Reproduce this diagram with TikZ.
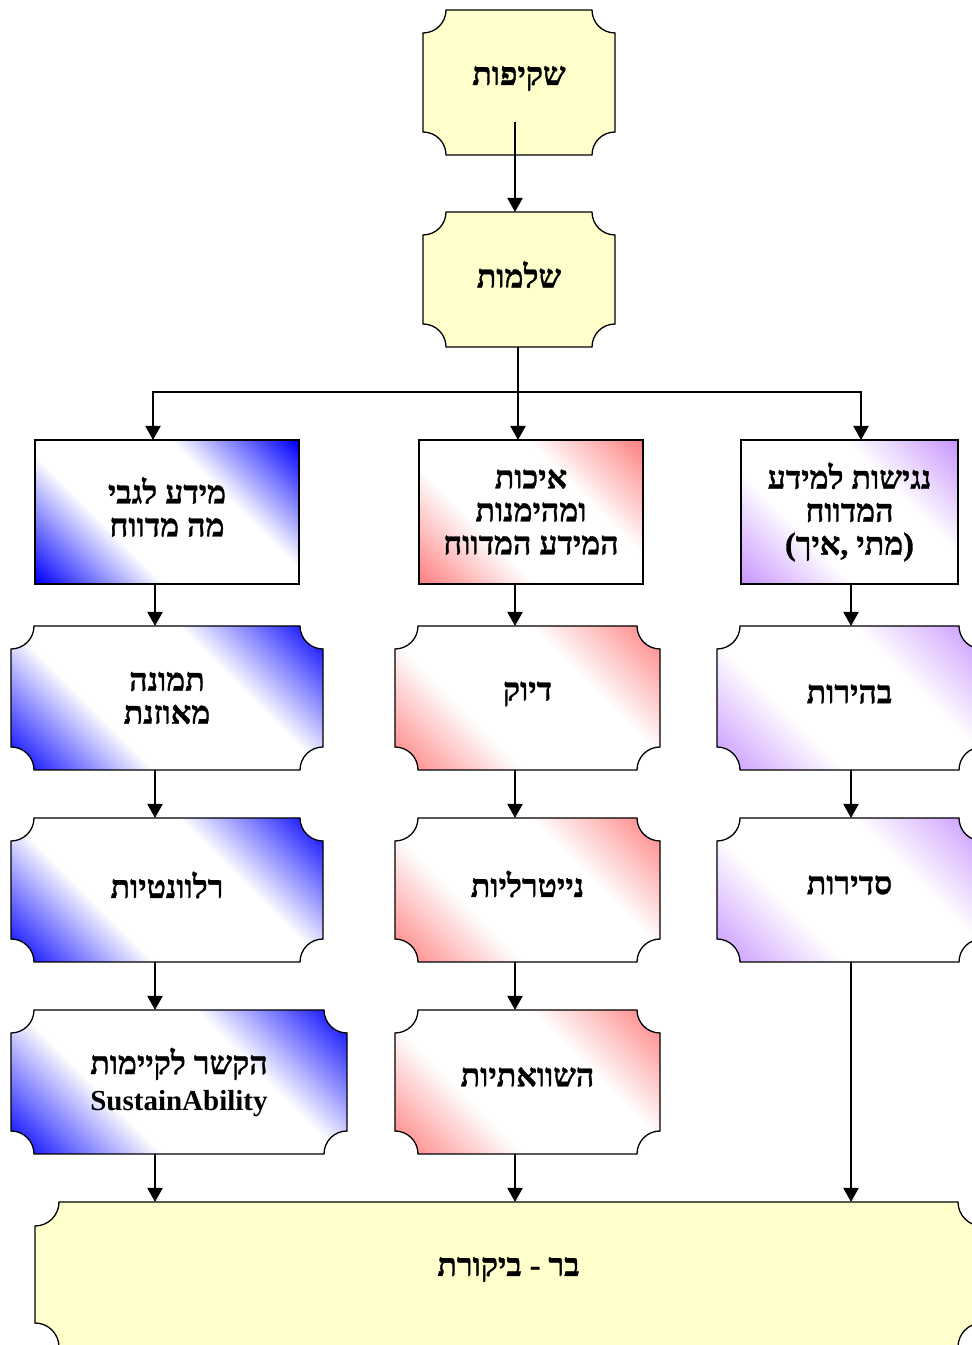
\documentclass[tikz,border=0pt]{standalone}
\usepackage{fontspec}
\newfontfamily\hebfont[Script=Hebrew,BoldFeatures={FakeBold=1}]{Liberation Serif}
\newfontfamily\latfont{Liberation Serif}
\TeXXeTstate=1
\usetikzlibrary{arrows.meta}

\definecolor{paleyellow}{RGB}{255,255,204}
\definecolor{shblue}{RGB}{0,0,255}
\definecolor{shred}{RGB}{255,128,128}
\definecolor{shviolet}{RGB}{200,150,255}

% diagonal shadings: coloured corners, white band along the diagonal
\pgfdeclarehorizontalshading{diagblue}{100bp}{color(0bp)=(shblue); color(15bp)=(shblue); color(37bp)=(white); color(63bp)=(white); color(85bp)=(shblue); color(100bp)=(shblue)}
\pgfdeclarehorizontalshading{diagred}{100bp}{color(0bp)=(shred); color(15bp)=(shred); color(37bp)=(white); color(63bp)=(white); color(85bp)=(shred); color(100bp)=(shred)}
\pgfdeclarehorizontalshading{diagviolet}{100bp}{color(0bp)=(shviolet); color(15bp)=(shviolet); color(37bp)=(white); color(63bp)=(white); color(85bp)=(shviolet); color(100bp)=(shviolet)}

% one right-to-left line
\newcommand{\rl}[1]{\beginR #1\endR}

% plaque (rectangle with concave corners):
% name, style, left, bottom, right, top, text, vertical text offset
\newcommand{\plqr}{23}
\newcommand{\plaque}[8]{%
  \path[boxframe,#2] (#3+\plqr,#6) -- (#5-\plqr,#6)
     arc[start angle=180,end angle=270,radius=\plqr] -- (#5,#4+\plqr)
     arc[start angle=90,end angle=180,radius=\plqr] -- (#3+\plqr,#4)
     arc[start angle=0,end angle=90,radius=\plqr] -- (#3,#6-\plqr)
     arc[start angle=270,end angle=360,radius=\plqr] -- cycle;
  \node[boxslot,minimum width={#5-#3},minimum height={#6-#4}] (#1)
     at ({(#3+#5)/2},{(#4+#6)/2}) {};
  \node[boxtext] (#1-text) at ([yshift=#8pt]#1.center) {#7};}
% plain rectangle: same arguments
\newcommand{\rectbox}[8]{%
  \path[boxframe,#2] (#3,#4) rectangle (#5,#6);
  \node[boxslot,minimum width={#5-#3},minimum height={#6-#4}] (#1)
     at ({(#3+#5)/2},{(#4+#6)/2}) {};
  \node[boxtext] (#1-text) at ([yshift=#8pt]#1.center) {#7};}

\begin{document}
\begin{tikzpicture}[x=1pt,y=1pt,
  boxframe/.style={draw=black,line width=1.3pt},
  yellowbox/.style={fill=paleyellow},
  bluebox/.style={shading=diagblue,shading angle=45},
  redbox/.style={shading=diagred,shading angle=45},
  violetbox/.style={shading=diagviolet,shading angle=45},
  boxslot/.style={inner sep=0pt,outer sep=0pt},
  boxtext/.style={align=center,inner sep=0pt,
    font=\hebfont\bfseries\fontsize{32}{33}\selectfont},
  wire/.style={line width=2pt,draw=black},
  conn/.style={wire,-{Triangle[width=15pt,length=14pt]}}]
\useasboundingbox (0,0) rectangle (972,1345);
\clip (0,0) rectangle (972,1345);

% column guides for the vertical connectors
\coordinate (colL) at (155,0);
\coordinate (colM) at (515,0);
\coordinate (colR) at (851,0);
\coordinate (dropL) at (153,0);
\coordinate (dropR) at (861,0);

% top chain
\plaque{top}{yellowbox}{423}{1190}{615}{1335}{\rl{שקיפות}}{4}
\plaque{mid}{yellowbox}{423}{998}{615}{1133}{\rl{שלמות}}{5}

% three main branches
\rectbox{iL}{bluebox}{35}{761}{299}{905}{\rl{מידע לגבי}\\\rl{מה מדווח}}{5}
\rectbox{iM}{redbox}{419}{761}{643}{905}{\rl{איכות}\\\rl{ומהימנות}\\\rl{המידע המדווח}}{0}
\rectbox{iR}{violetbox}{741}{761}{958}{905}{\rl{נגישות למידע}\\\rl{המדווח}\\\rl{(מתי ,איך)}}{0}

% second row
\plaque{L2}{bluebox}{11}{575}{323}{719}{\rl{תמונה}\\\rl{מאוזנת}}{0}
\plaque{M2}{redbox}{395}{575}{660}{719}{\rl{דיוק}}{4}
\plaque{R2}{violetbox}{717}{575}{982}{719}{\rl{בהירות}}{4}

% third row
\plaque{L3}{bluebox}{11}{383}{323}{527}{\rl{רלוונטיות}}{5}
\plaque{M3}{redbox}{395}{383}{660}{527}{\rl{נייטרליות}}{6}
\plaque{R3}{violetbox}{717}{383}{982}{527}{\rl{סדירות}}{5}

% fourth row
\plaque{L4}{bluebox}{11}{191}{347}{335}{\rl{הקשר לקיימות}\\[3pt]{\latfont\fontsize{29}{33}\selectfont SustainAbility}}{0}
\plaque{M4}{redbox}{395}{191}{660}{335}{\rl{השוואתיות}}{5}

% common sink
\renewcommand{\plqr}{24}
\plaque{bar}{yellowbox}{35}{-2}{982}{143}{\rl{בר - ביקורת}}{5}

% connectors
\draw[conn] ([shift={(-4,33)}]top.south) -- ([xshift=-4pt]mid.north);
\coordinate (bus) at (518,953);
\draw[wire] ([xshift=-1pt]mid.south) -- (bus);
\draw[conn] (bus) -| (iL.north -| dropL);
\draw[conn] (bus) -- (iM.north -| bus);
\draw[conn] (bus) -| (iR.north -| dropR);

\draw[conn] (iL.south -| colL) -- (L2.north -| colL);
\draw[conn] (L2.south -| colL) -- (L3.north -| colL);
\draw[conn] (L3.south -| colL) -- (L4.north -| colL);
\draw[conn] (L4.south -| colL) -- (bar.north -| colL);

\draw[conn] (iM.south -| colM) -- (M2.north -| colM);
\draw[conn] (M2.south -| colM) -- (M3.north -| colM);
\draw[conn] (M3.south -| colM) -- (M4.north -| colM);
\draw[conn] (M4.south -| colM) -- (bar.north -| colM);

\draw[conn] (iR.south -| colR) -- (R2.north -| colR);
\draw[conn] (R2.south -| colR) -- (R3.north -| colR);
\draw[conn] (R3.south -| colR) -- (bar.north -| colR);
\end{tikzpicture}
\end{document}
